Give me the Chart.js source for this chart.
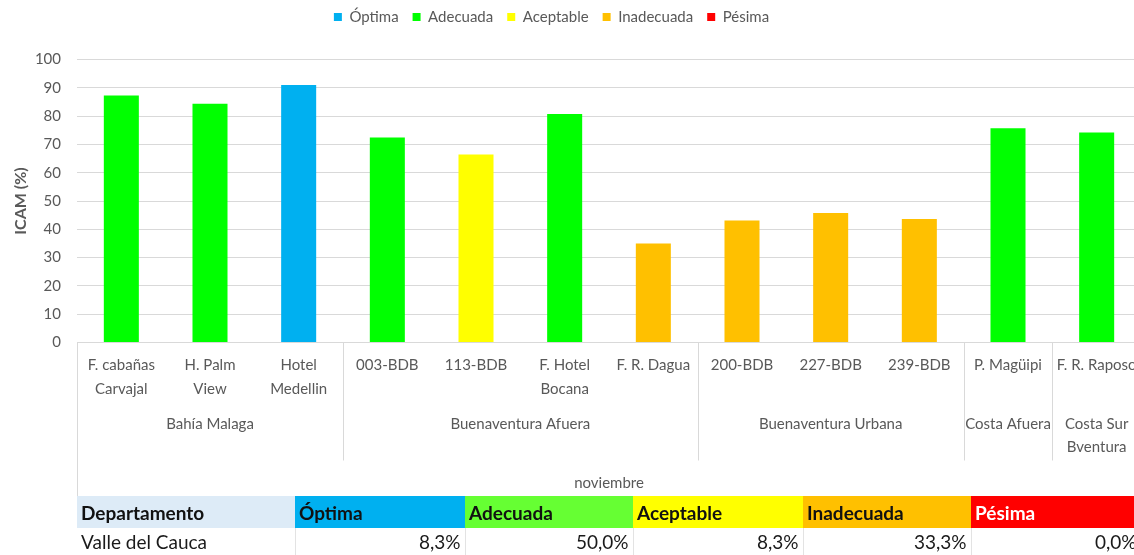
<!DOCTYPE html>
<html>
<head>
<meta charset="utf-8">
<script src="https://cdn.jsdelivr.net/npm/chart.js@4.4.1/dist/chart.umd.min.js"></script>
<style>
  body { margin: 0; overflow: hidden; background: #fff; font-family: Lato, sans-serif; }
  #wrap { position: absolute; left: 0; top: 0; width: 1150px; height: 555px; }
  #summary { position: absolute; left: 77px; top: 496px; border-collapse: collapse; table-layout: fixed; }
  #summary th { height: 32px; padding: 0 4px; text-align: left; font-weight: bold; font-size: 19px; color: #111; }
  #summary td { height: 27px; padding: 0 4px; font-size: 19px; color: #1a1a1a; text-align: right; border-right: 1px solid #e3e3e3; }
  #summary td:first-child { text-align: left; }
</style>
</head>
<body>
<div id="wrap">
  <canvas id="icamChart" width="1150" height="555"></canvas>
  <table id="summary"></table>
</div>
<script>
// Station names (first level of the axis), one array per line
const stations = [
    ['F. cabañas', 'Carvajal'],
    ['H. Palm', 'View'],
    ['Hotel', 'Medellin'],
    ['003-BDB'],
    ['113-BDB'],
    ['F. Hotel', 'Bocana'],
    ['F. R. Dagua'],
    ['200-BDB'],
    ['227-BDB'],
    ['239-BDB'],
    ['P. Magüipi'],
    ['F. R. Raposo']
];

// Zones (second level of the axis) and how many stations each holds
const zones = [['Bahía Malaga'], ['Buenaventura Afuera'], ['Buenaventura Urbana'], ['Costa Afuera'], ['Costa Sur', 'Bventura']];
const zoneSizes = [3, 4, 3, 1, 1];
const monthLabel = 'noviembre';

// ICAM values (%)
const icamValues = [87.3, 84.4, 91.0, 72.4, 66.4, 80.7, 35.0, 43.1, 45.8, 43.6, 75.7, 74.2];

// Quality classes: index into classNames for each station
const classNames = ['Óptima', 'Adecuada', 'Aceptable', 'Inadecuada', 'Pésima'];
const classColors = ['#00B0F0', '#00FF00', '#FFFF00', '#FFC000', '#FF0000'];
const stationClass = [1, 1, 0, 1, 2, 1, 3, 3, 3, 3, 1, 1];

// Summary table
const tableHeader = ['Departamento', 'Óptima', 'Adecuada', 'Aceptable', 'Inadecuada', 'Pésima'];
const tableHeaderColors = ['#DDEBF7', '#00B0F0', '#66FF33', '#FFFF00', '#FFC000', '#FF0000'];
const tableRow = ['Valle del Cauca', '8,3%', '50,0%', '8,3%', '33,3%', '0,0%'];
const tableWidths = [218, 170, 168, 170, 168, 170];

const textGray = '#595959';
const lineGray = '#d9d9d9';
const labelFont = '15px Lato';

// Draws the two-level category axis below the bars (Excel style)
const multiLevelAxis = {
    id: 'multiLevelAxis',
    afterDraw(chart) {
        const ctx = chart.ctx;
        const x = chart.scales.x;
        const area = chart.chartArea;
        const step = x.getPixelForValue(1) - x.getPixelForValue(0);

        ctx.save();
        ctx.fillStyle = textGray;
        ctx.font = labelFont;
        ctx.textAlign = 'center';
        ctx.textBaseline = 'middle';

        stations.forEach((lines, i) => {
            const cx = x.getPixelForValue(i);
            lines.forEach((line, j) => ctx.fillText(line, cx, area.bottom + 23 + j * 24));
        });

        ctx.strokeStyle = lineGray;
        ctx.lineWidth = 1;
        let start = 0;
        zones.forEach((lines, g) => {
            const first = start;
            const last = start + zoneSizes[g] - 1;
            const cx = (x.getPixelForValue(first) + x.getPixelForValue(last)) / 2;
            lines.forEach((line, j) => ctx.fillText(line, cx, area.bottom + 82 + j * 23));

            // separator at the left edge of each zone
            const sx = Math.round(x.getPixelForValue(first) - step / 2) + 0.5;
            const bottom = g === 0 ? area.bottom + 155 : area.bottom + 118;
            ctx.beginPath();
            ctx.moveTo(sx, area.bottom);
            ctx.lineTo(sx, bottom);
            ctx.stroke();
            start = last + 1;
        });

        // right edge
        const rx = Math.round(area.right) + 0.5;
        ctx.beginPath();
        ctx.moveTo(rx, area.bottom);
        ctx.lineTo(rx, area.bottom + 155);
        ctx.stroke();

        ctx.fillText(monthLabel, (area.left + area.right) / 2, area.bottom + 141);
        ctx.restore();
    }
};

// Leaves room between the legend and the plot, and nudges the legend left
const legendSpacing = {
    id: 'legendSpacing',
    beforeLayout(chart) {
        const legend = chart.legend;
        if (legend && !legend._spaced) {
            const fit = legend.fit;
            legend.fit = function() {
                fit.call(this);
                this.height += 25;
            };
            legend._spaced = true;
        }
    },
    afterLayout(chart) {
        chart.legend.right -= 38;
    }
};

function buildTable() {
    const table = document.getElementById('summary');
    const head = document.createElement('tr');
    tableHeader.forEach((name, i) => {
        const th = document.createElement('th');
        th.textContent = name;
        th.style.width = (tableWidths[i] - 8) + 'px';
        th.style.background = tableHeaderColors[i];
        if (i === tableHeader.length - 1) th.style.color = '#fff';
        head.appendChild(th);
    });
    table.appendChild(head);

    const row = document.createElement('tr');
    tableRow.forEach(value => {
        const td = document.createElement('td');
        td.textContent = value;
        row.appendChild(td);
    });
    table.appendChild(row);
}

const ctx = document.getElementById('icamChart').getContext('2d');

new Chart(ctx, {
    type: 'bar',
    data: {
        labels: stations,
        datasets: [{
            label: 'ICAM',
            data: icamValues,
            backgroundColor: stationClass.map(c => classColors[c]),
            borderWidth: 0,
            barPercentage: 0.395,
            categoryPercentage: 1
        }]
    },
    options: {
        responsive: false,
        animation: false,
        layout: {
            padding: { left: 0, right: 9, top: -4.5, bottom: 212.5 }
        },
        plugins: {
            legend: {
                position: 'top',
                onClick: null,
                labels: {
                    color: textGray,
                    font: { family: 'Lato', size: 15 },
                    boxWidth: 8,
                    boxHeight: 8,
                    padding: 14,
                    generateLabels: () => classNames.map((name, i) => ({
                        text: name,
                        fillStyle: classColors[i],
                        strokeStyle: classColors[i],
                        lineWidth: 0,
                        fontColor: textGray,
                        hidden: false,
                        index: i
                    }))
                }
            },
            tooltip: { enabled: false }
        },
        scales: {
            x: {
                offset: true,
                grid: { display: false },
                border: { display: true, color: lineGray, width: 1 },
                ticks: { display: false },
                afterFit: scale => { scale.height = 0; }
            },
            y: {
                min: 0,
                max: 100,
                ticks: {
                    stepSize: 10,
                    color: textGray,
                    font: { family: 'Lato', size: 15 },
                    padding: 16
                },
                grid: { color: lineGray, drawTicks: false },
                border: { display: false },
                title: {
                    display: true,
                    text: 'ICAM (%)',
                    color: textGray,
                    font: { family: 'Lato', size: 16, weight: 'bold' },
                    padding: { top: 11, bottom: 0 }
                },
                afterFit: scale => { scale.width = 77; }
            }
        }
    },
    plugins: [multiLevelAxis, legendSpacing]
});

buildTable();
</script>
</body>
</html>
